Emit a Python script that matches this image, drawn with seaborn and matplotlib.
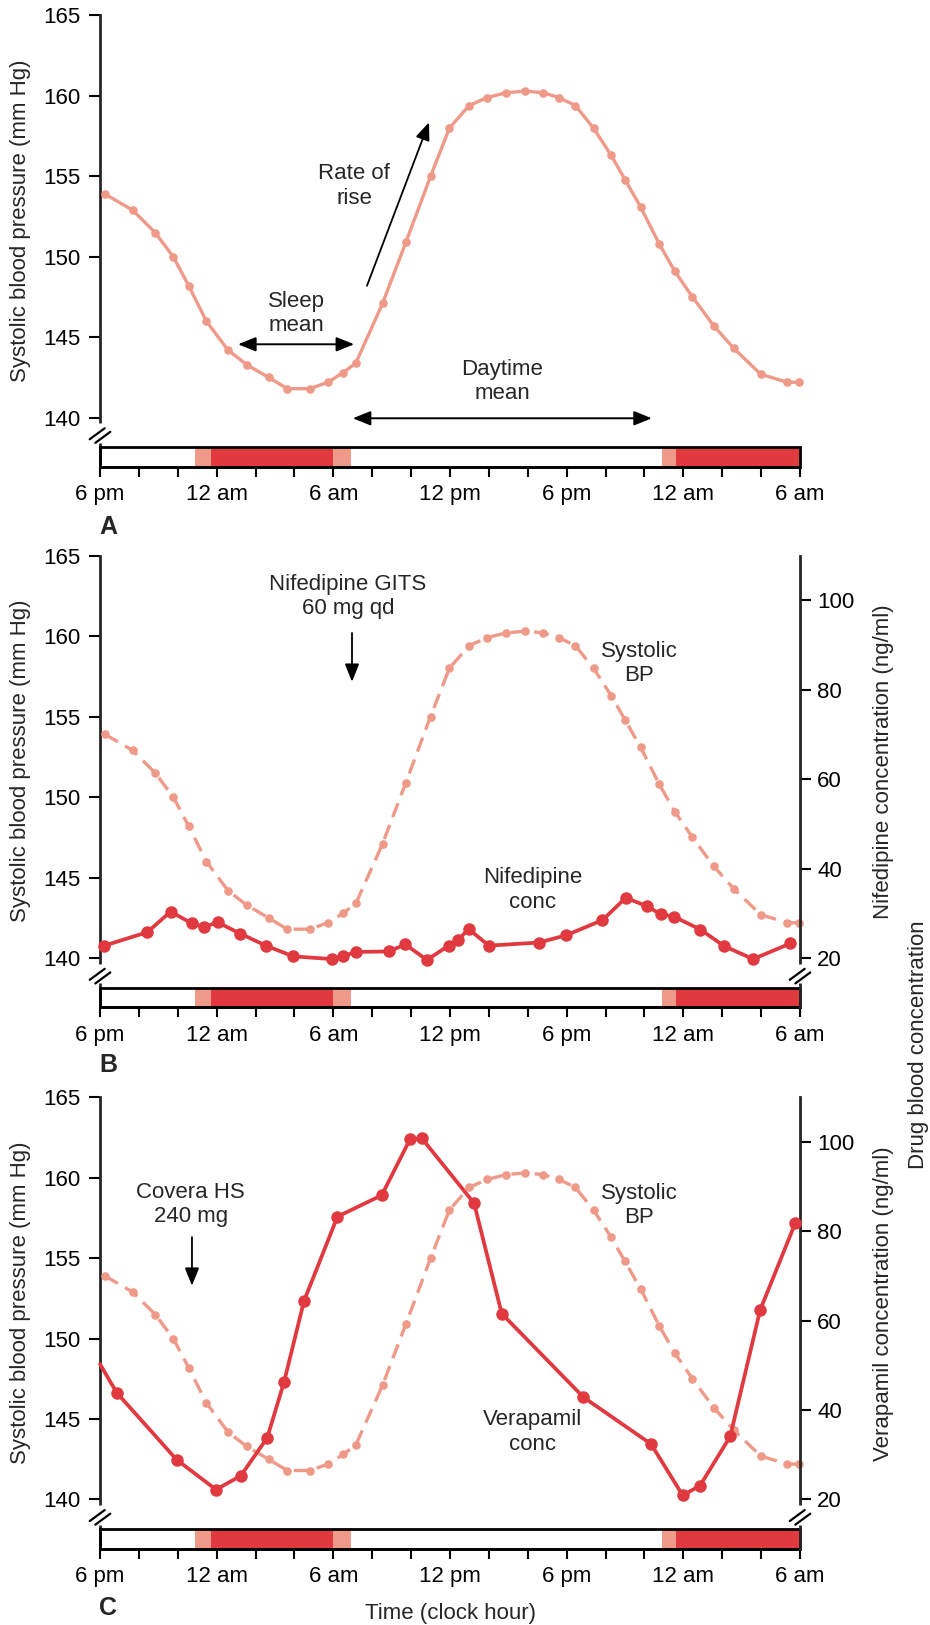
import matplotlib
matplotlib.use('Agg')
import matplotlib.pyplot as plt
from matplotlib.patches import Rectangle
import seaborn as sns

# systolic blood pressure, same curve in all three panels
# hours counted from 6 pm
bp_hours = [0.25, 1.68, 2.84, 3.77, 4.56, 5.47, 6.58, 7.54, 8.67, 9.63, 10.8, 11.72,
            12.51, 13.16, 14.53, 15.73, 17.0, 17.97, 18.98, 19.91, 20.89, 21.88, 22.79,
            23.6, 24.45, 25.38, 26.29, 27.0, 27.8, 28.76, 29.56, 30.47, 31.57, 32.6,
            33.98, 35.35, 35.94]
bp_values = [153.9, 152.9, 151.5, 150.0, 148.2, 146.0, 144.2, 143.3, 142.5, 141.8, 141.8,
             142.2, 142.8, 143.4, 147.1, 150.9, 155.0, 158.0, 159.4, 159.9, 160.2, 160.3,
             160.2, 159.9, 159.4, 158.0, 156.3, 154.8, 153.1, 150.8, 149.1, 147.5, 145.7,
             144.3, 142.7, 142.2, 142.2]

# nifedipine concentration (ng/ml)
nif_hours = [0.22, 2.43, 3.63, 4.71, 5.36, 6.05, 7.21, 8.53, 9.94, 11.94, 12.51, 13.16,
             14.87, 15.7, 16.81, 17.93, 18.42, 18.96, 20.0, 22.57, 23.96, 25.84, 27.04,
             28.14, 28.84, 29.51, 30.88, 32.1, 33.59, 35.51]
nif_conc = [22.8, 25.8, 30.4, 27.8, 27.0, 28.0, 25.5, 22.8, 20.4, 19.8, 20.5, 21.4,
            21.5, 23.1, 19.6, 22.8, 24.1, 26.5, 22.8, 23.5, 25.1, 28.5, 33.5,
            31.6, 29.8, 29.3, 26.4, 22.7, 19.8, 23.3]

# verapamil concentration (ng/ml), first value is where the line enters the axis
ver_hours = [0.0, 0.86, 3.94, 5.97, 7.24, 8.6, 9.46, 10.49, 12.21, 14.49, 15.94, 16.56,
             19.24, 20.66, 24.86, 28.34, 29.97, 30.86, 32.41, 33.95, 35.76]
ver_conc = [50.3, 43.9, 28.9, 22.2, 25.3, 33.8, 46.2, 64.4, 83.3, 88.1, 100.6, 100.8,
            86.3, 61.6, 42.9, 32.4, 20.9, 23.1, 34.1, 62.4, 81.9]

tick_hours = list(range(0, 37, 2))
tick_labels = ['6 pm', '', '', '12 am', '', '', '6 am', '', '', '12 pm', '', '',
               '6 pm', '', '', '12 am', '', '', '6 am']
bp_ticks = [140, 145, 150, 155, 160, 165]
conc_ticks = [20, 40, 60, 80, 100]

# bar under each panel: dusk/dawn (light) and sleep (dark)
light_periods = [(4.9, 5.7), (12.0, 12.9), (28.9, 29.6)]
dark_periods = [(5.7, 12.0), (29.6, 36.0)]

SALMON = '#EF9A89'
RED = '#E0393F'
FS = 16

sns.set_theme(style='ticks')
plt.rcParams['font.family'] = ['Liberation Sans', 'DejaVu Sans']

W, H = 930, 1625
fig = plt.figure(figsize=(9.3, 16.25), dpi=100)

y_lo, y_hi = 136.95, 165
strip_top = 138.15


def bp_to_conc(v):
    return 20 + (v - 140) * 3.6


def axis_break(ax, x):
    yc = 0.069
    ax.plot([x, x], [0.053, 0.096], transform=ax.transAxes, color='white', lw=5,
            solid_capstyle='butt', clip_on=False, zorder=10)
    for dx, dy in [(-0.004, 0.004), (0.004, -0.004)]:
        ax.plot([x + dx - 0.0107, x + dx + 0.0107], [yc + dy - 0.0122, yc + dy + 0.0122],
                transform=ax.transAxes, color='black', lw=1.6, clip_on=False, zorder=11)


def make_panel(top, bottom, letter, letter_y):
    ax = fig.add_axes([100 / W, 1 - bottom / H, 700 / W, (bottom - top) / H])
    sns.lineplot(x=bp_hours, y=bp_values, ax=ax, color=SALMON, lw=2.4, marker='o',
                 ms=6.2, mew=0, errorbar=None, clip_on=False, zorder=4,
                 linestyle='-' if letter == 'A' else (0, (4.5, 2.5)))
    ax.set_xlim(0, 36)
    ax.set_ylim(y_lo, y_hi)
    ax.set_yticks(bp_ticks)
    ax.set_xticks(tick_hours)
    ax.set_xticklabels(tick_labels)
    ax.spines['top'].set_visible(False)
    ax.spines['right'].set_visible(False)
    ax.spines['left'].set_linewidth(2)
    ax.spines['bottom'].set_linewidth(2)
    ax.tick_params(axis='y', length=8, width=1.5, pad=6, labelsize=FS, colors='black')
    ax.tick_params(axis='x', length=7.5, width=1.5, pad=5, labelsize=FS, colors='black')
    ax.broken_barh([(a, b - a) for a, b in light_periods], (y_lo, strip_top - y_lo),
                   facecolors=SALMON, edgecolor='none', linewidth=0, zorder=2)
    ax.broken_barh([(a, b - a) for a, b in dark_periods], (y_lo, strip_top - y_lo),
                   facecolors=RED, edgecolor='none', linewidth=0, zorder=2)
    ax.add_patch(Rectangle((0, y_lo), 36, strip_top - y_lo, fill=False, edgecolor='black',
                           lw=2, zorder=3, clip_on=False))
    axis_break(ax, 0)
    fig.text(21 / W, 1 - (top + 205.5) / H, 'Systolic blood pressure (mm Hg)', rotation=90,
             ha='center', va='center', fontsize=FS)
    fig.text(108 / W, 1 - letter_y / H, letter, fontsize=18, weight='bold',
             ha='center', va='center')
    return ax


def add_conc_axis(ax, top, label):
    ax2 = ax.twinx()
    ax2.set_ylim(bp_to_conc(y_lo), bp_to_conc(y_hi))
    ax2.set_yticks(conc_ticks)
    for s in ['left', 'top', 'bottom']:
        ax2.spines[s].set_visible(False)
    ax2.spines['right'].set_linewidth(2)
    ax2.tick_params(axis='y', length=8, width=1.5, pad=4.5, labelsize=FS, colors='black')
    axis_break(ax2, 1)
    fig.text(883 / W, 1 - (top + 206.5) / H, label, rotation=90, ha='center',
             va='center', fontsize=FS)
    return ax2


arrow2 = dict(arrowstyle='<|-|>,head_length=0.72,head_width=0.29', color='black',
              lw=1.4, mutation_scale=15, shrinkA=0, shrinkB=0)
arrow1 = dict(arrowstyle='-|>,head_length=0.72,head_width=0.29', color='black',
              lw=1.3, mutation_scale=15, shrinkA=0, shrinkB=0)

# A
axA = make_panel(15.5, 466.7, 'A', 527)
axA.text(13.07, 154.4, 'Rate of\nrise', ha='center', va='center', fontsize=FS)
axA.annotate('', xy=(16.92, 158.36), xytext=(13.73, 148.2), arrowprops=arrow1)
axA.text(10.08, 146.45, 'Sleep\nmean', ha='center', va='center', fontsize=FS)
axA.annotate('', xy=(7.1, 144.56), xytext=(13.07, 144.56), arrowprops=arrow2)
axA.text(20.7, 142.25, 'Daytime\nmean', ha='center', va='center', fontsize=FS)
axA.annotate('', xy=(13.0, 139.96), xytext=(28.38, 139.96), arrowprops=arrow2)

# B
axB = make_panel(555.5, 1007.3, 'B', 1065)
axB2 = add_conc_axis(axB, 555.5, 'Nifedipine concentration (ng/ml)')
sns.lineplot(x=nif_hours, y=nif_conc, ax=axB2, color=RED, lw=2.7, marker='o', ms=9,
             mew=0, errorbar=None, clip_on=False, zorder=5)
axB2.set_ylim(bp_to_conc(y_lo), bp_to_conc(y_hi))
axB.text(12.76, 162.46, 'Nifedipine GITS\n60 mg qd', ha='center', va='center', fontsize=FS)
axB.annotate('', xy=(12.96, 157.16), xytext=(12.96, 160.19), arrowprops=arrow1)
axB.text(27.73, 158.3, 'Systolic\nBP', ha='center', va='center', fontsize=FS)
axB.text(22.27, 144.23, 'Nifedipine\nconc', ha='center', va='center', fontsize=FS)

# C
axC = make_panel(1097.4, 1548.5, 'C', 1608)
axC2 = add_conc_axis(axC, 1097.4, 'Verapamil concentration (ng/ml)')
sns.lineplot(x=ver_hours, y=ver_conc, ax=axC2, color=RED, lw=2.7, marker='o', ms=9,
             mew=0, errorbar=None, clip_on=False, zorder=5,
             markevery=list(range(1, len(ver_hours))))
axC2.set_ylim(bp_to_conc(y_lo), bp_to_conc(y_hi))
axC.text(4.66, 158.36, 'Covera HS\n240 mg', ha='center', va='center', fontsize=FS)
axC.annotate('', xy=(4.73, 153.29), xytext=(4.73, 156.31), arrowprops=arrow1)
axC.text(27.73, 158.3, 'Systolic\nBP', ha='center', va='center', fontsize=FS)
axC.text(22.27, 144.2, 'Verapamil\nconc', ha='center', va='center', fontsize=FS)

fig.text(918 / W, 1 - 1045 / H, 'Drug blood concentration', rotation=90, ha='center',
         va='center', fontsize=FS)
fig.text(450 / W, 1 - 1613 / H, 'Time (clock hour)', ha='center', va='center', fontsize=FS)

fig.savefig('out.png', dpi=100)
